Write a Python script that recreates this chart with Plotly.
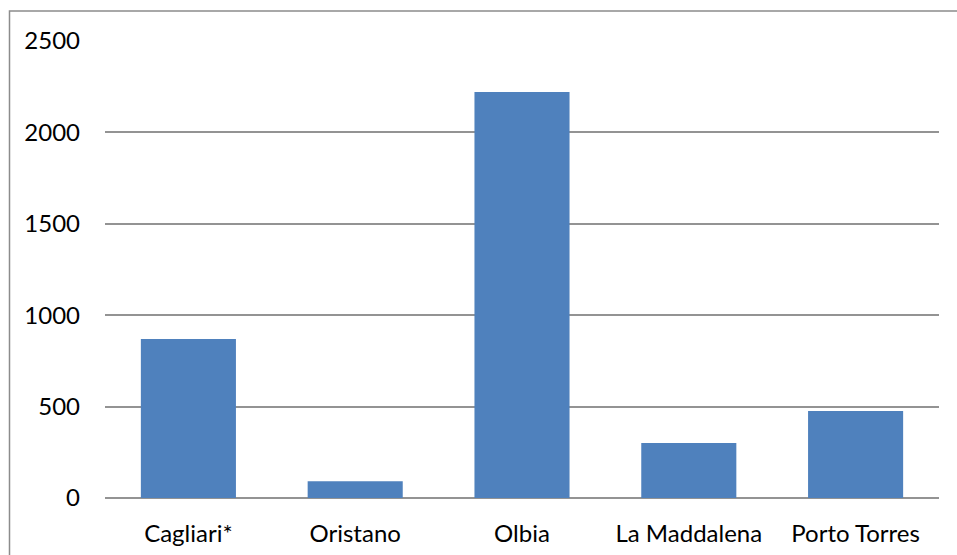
import plotly.graph_objects as go

# Port arrivals by city
ports = ["Cagliari*", "Oristano", "Olbia", "La Maddalena", "Porto Torres"]
values = [870, 91, 2221, 301, 476]
y_ticks = [0, 500, 1000, 1500, 2000, 2500]

W, H = 957, 555
L, R, T, B = 105, 18, 41, 57
plot_w = W - L - R
plot_h = H - T - B

fig = go.Figure(
    go.Bar(
        x=ports,
        y=values,
        marker=dict(color="#4f81bd", line=dict(width=0)),
    )
)

grid = "#939393"
font = dict(family="Lato, 'Open Sans', sans-serif", size=24, color="#000000")

# Outer frame of the chart area (top and left edges visible)
fx0 = (9.5 - L) / plot_w
fy1 = (H - B - 11) / plot_h
fig.add_shape(type="rect", xref="paper", yref="paper",
              x0=fx0, x1=1.2, y0=-0.3, y1=fy1,
              line=dict(color="#8c8c8c", width=1.5), fillcolor="rgba(0,0,0,0)",
              layer="below")

fig.update_layout(
    width=W, height=H,
    margin=dict(l=L, r=R, t=T, b=B),
    paper_bgcolor="white", plot_bgcolor="white",
    bargap=0.43,
    showlegend=False,
    font=font,
    xaxis=dict(showgrid=False, showline=False, ticks="", tickfont=font,
               ticklabelstandoff=19, automargin=False),
    yaxis=dict(range=[0, 2500], tickvals=y_ticks, showgrid=True,
               gridcolor=grid, gridwidth=1.5, zeroline=True, zerolinecolor=grid,
               zerolinewidth=1.5, showline=False, ticks="", tickfont=font,
               ticklabelstandoff=24, automargin=False),
)

fig.write_html("out.html")
